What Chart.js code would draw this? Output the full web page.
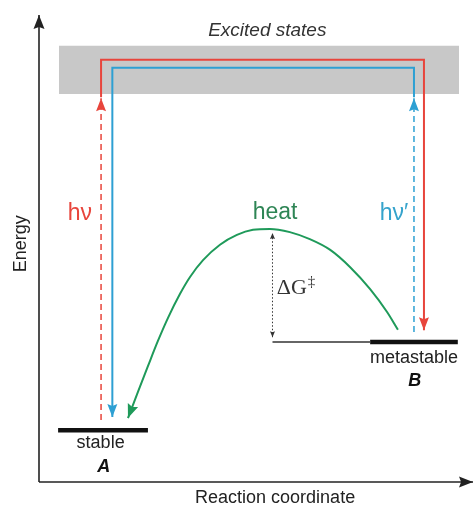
<!DOCTYPE html>
<html>
<head>
<meta charset="utf-8">
<script src="https://cdn.jsdelivr.net/npm/chart.js@4.4.1/dist/chart.umd.min.js"></script>
<style>
  html, body { margin: 0; padding: 0; background: #fff; }
  .wrap { width: 474px; height: 508px; position: relative; }
</style>
</head>
<body>
<div class="wrap"><canvas id="myChart"></canvas></div>
<script>
// reaction coordinate (x) and energy (y), both in arbitrary units 0-100
const stableX = [4.4, 25.1]
const stableE = 11.1
const metaX = [76.3, 96.5]
const metaE = 30.0

const bandX = [4.6, 96.8]
const bandE = [83.1, 93.4]

// thermal path B -> A over the barrier
const barrierX = [82.7, 80.2, 76.3, 71.7, 67.1, 62.4, 57.8, 53.2, 49.3, 45.6, 41.7, 37.8, 34.8, 32.5, 29.7, 27.4, 25.1, 22.8, 20.5]
const barrierE = [32.6, 36.4, 41.3, 46.0, 49.7, 52.0, 53.5, 54.2, 54.0, 52.9, 50.8, 47.5, 43.9, 40.3, 35.1, 30.2, 24.8, 19.3, 13.7]

const redPathX = [14.3, 14.3, 88.7, 88.7]
const redPathE = [82.4, 90.4, 90.4, 32.5]
const bluePathX = [86.4, 86.4, 16.9, 16.9]
const bluePathE = [82.4, 88.7, 88.7, 13.9]

const redPumpX = [14.3, 14.3]
const redPumpE = [13.3, 82.2]
const bluePumpX = [86.4, 86.4]
const bluePumpE = [32.1, 82.2]

const dGX = [53.8, 53.8]
const dGE = [31.0, 53.3]
const dGBaseX = [53.8, 76.3]

const xAxisX = [0, 100]
const xAxisE = [0, 0]
const yAxisX = [0, 0]
const yAxisE = [0, 100]

const red = '#e8453c'
const blue = '#2ea0d3'
const green = '#1f9a5a'

function pts(xs, ys) {
    return xs.map((x, i) => ({ x: x, y: Array.isArray(ys) ? ys[i] : ys }))
}

function line(data, color, width, extra) {
    return Object.assign({
        data: data,
        showLine: true,
        borderColor: color,
        backgroundColor: color,
        borderWidth: width,
        pointRadius: 0,
        tension: 0,
        clip: false,
        fill: false
    }, extra || {})
}

const datasets = [
    line(pts(xAxisX, xAxisE), '#222', 1.6, { arrowEnd: [14, 11] }),
    line(pts(yAxisX, yAxisE), '#222', 1.6, { arrowEnd: [14, 11] }),
    line(pts(redPathX, redPathE), red, 2, { arrowEnd: [13, 10] }),
    line(pts(bluePathX, bluePathE), blue, 2, { arrowEnd: [13, 10] }),
    line(pts(redPumpX, redPumpE), red, 1.5, { borderDash: [6, 4], arrowEnd: [13, 10] }),
    line(pts(bluePumpX, bluePumpE), blue, 1.5, { borderDash: [6, 4], arrowEnd: [13, 10] }),
    line(pts(barrierX, barrierE), green, 2, { cubicInterpolationMode: 'monotone', arrowEnd: [14, 11] }),
    line(pts(dGX, dGE), '#333', 1, { borderDash: [1.5, 2], arrowEnd: [6, 5], arrowStart: [6, 5] }),
    line(pts(dGBaseX, metaE), '#666', 2),
    line(pts(stableX, stableE), '#111', 4.5),
    line(pts(metaX, metaE), '#111', 4.5),
    line(pts(bandX, bandE[0]), '#c8c8c8', 0, { fill: { value: bandE[1] }, backgroundColor: '#c8c8c8', order: 99 })
]

const labels = [
    { text: 'Excited states', x: 52.6, y: 96.6, font: 'italic 19px "Liberation Sans", Arial', color: '#333' },
    { text: 'hν', x: 9.4, y: 57.4, font: '23px "Liberation Sans", Arial', color: red },
    { text: 'hν\u2032', x: 81.8, y: 57.4, font: '23px "Liberation Sans", Arial', color: '#35a3cc' },
    { text: 'heat', x: 54.4, y: 57.6, font: '23px "Liberation Sans", Arial', color: '#2e8555' },
    { text: 'metastable', x: 86.4, y: 26.6, font: '18px "Liberation Sans", Arial', color: '#222' },
    { text: 'B', x: 86.6, y: 21.6, font: 'italic bold 18px "Liberation Sans", Arial', color: '#111' },
    { text: 'stable', x: 14.2, y: 8.3, font: '18px "Liberation Sans", Arial', color: '#222' },
    { text: 'A', x: 14.9, y: 3.2, font: 'italic bold 18px "Liberation Sans", Arial', color: '#111' },
    { text: 'Reaction coordinate', x: 54.4, y: -3.4, font: '18px "Liberation Sans", Arial', color: '#222' },
    { text: 'Energy', x: -4.1, y: 51.0, font: '18px "Liberation Sans", Arial', color: '#222', rotate: true }
]

function arrowHead(ctx, tip, from, size, color) {
    const a = Math.atan2(tip.y - from.y, tip.x - from.x)
    const len = size[0], half = size[1] / 2
    ctx.save()
    ctx.translate(tip.x, tip.y)
    ctx.rotate(a)
    ctx.beginPath()
    ctx.moveTo(0, 0)
    ctx.lineTo(-len, -half)
    ctx.lineTo(-len * 0.85, 0)
    ctx.lineTo(-len, half)
    ctx.closePath()
    ctx.fillStyle = color
    ctx.fill()
    ctx.restore()
}

const arrowPlugin = {
    id: 'arrows',
    afterDatasetsDraw(chart) {
        const ctx = chart.ctx
        chart.data.datasets.forEach((ds, i) => {
            const p = chart.getDatasetMeta(i).data
            if (ds.arrowEnd) arrowHead(ctx, p[p.length - 1], p[p.length - 2], ds.arrowEnd, ds.borderColor)
            if (ds.arrowStart) arrowHead(ctx, p[0], p[1], ds.arrowStart, ds.borderColor)
        })
    }
}

const textPlugin = {
    id: 'texts',
    afterDraw(chart) {
        const ctx = chart.ctx
        const sx = chart.scales.x, sy = chart.scales.y
        labels.forEach(l => {
            const px = sx.getPixelForValue(l.x)
            const py = sy.getPixelForValue(l.y)
            ctx.save()
            ctx.font = l.font
            ctx.fillStyle = l.color
            ctx.textAlign = 'center'
            ctx.textBaseline = 'middle'
            ctx.translate(px, py)
            if (l.rotate) ctx.rotate(-Math.PI / 2)
            ctx.fillText(l.text, 0, 0)
            ctx.restore()
        })

        // ΔG‡ with raised double dagger
        const gx = sx.getPixelForValue(54.8)
        const gy = sy.getPixelForValue(41.5)
        ctx.save()
        ctx.fillStyle = '#333'
        ctx.textBaseline = 'middle'
        ctx.textAlign = 'left'
        ctx.font = '22px "Liberation Serif", "DejaVu Serif", serif'
        ctx.fillText('ΔG', gx, gy)
        const w = ctx.measureText('ΔG').width
        ctx.font = '15px "Liberation Serif", "DejaVu Serif", serif'
        ctx.fillText('‡', gx + w + 1, gy - 6)
        ctx.restore()
    }
}

const chart = new Chart(document.getElementById('myChart'), {
    type: 'scatter',
    data: { datasets: datasets },
    options: {
        responsive: true,
        maintainAspectRatio: false,
        animation: false,
        layout: { padding: { left: 39, right: 1, top: 15, bottom: 26 } },
        scales: {
            x: { type: 'linear', min: 0, max: 100, display: false },
            y: { type: 'linear', min: 0, max: 100, display: false }
        },
        plugins: {
            legend: { display: false },
            tooltip: { enabled: false }
        }
    },
    plugins: [arrowPlugin, textPlugin]
})
</script>
</body>
</html>
